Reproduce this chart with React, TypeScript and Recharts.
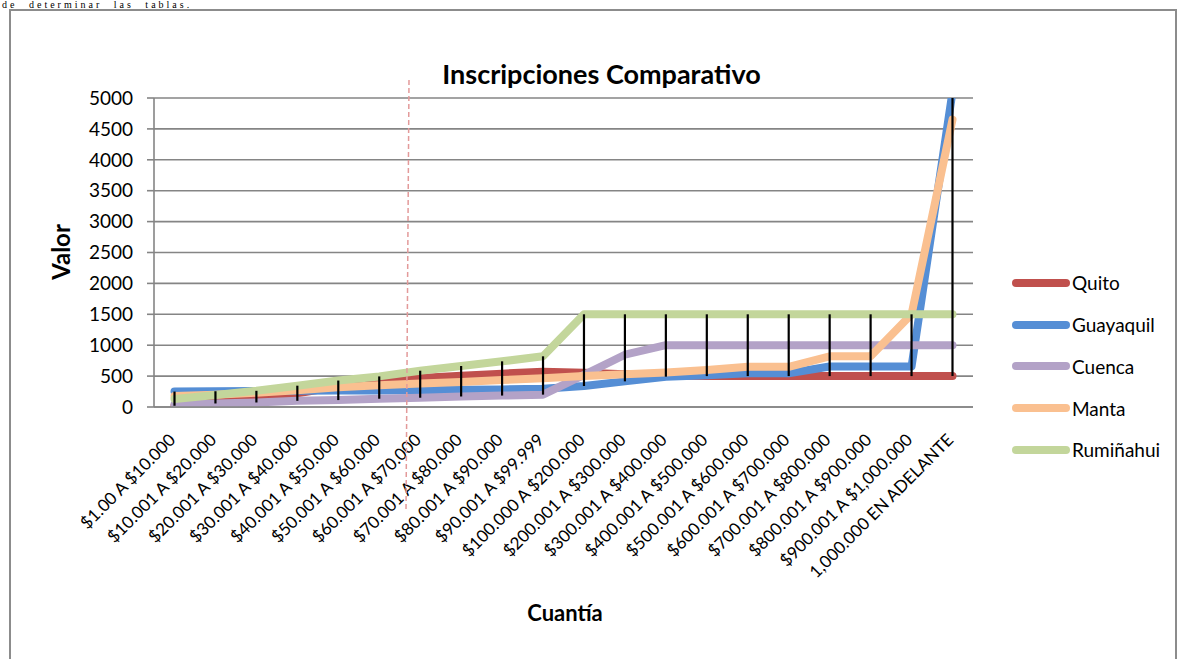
import React from "react";
import {
  ComposedChart,
  Line,
  ErrorBar,
  XAxis,
  YAxis,
  CartesianGrid,
} from "recharts";

const categories = [
  "$1.00 A $10.000",
  "$10.001 A $20.000",
  "$20.001 A $30.000",
  "$30.001 A $40.000",
  "$40.001 A $50.000",
  "$50.001 A $60.000",
  "$60.001 A $70.000",
  "$70.001 A $80.000",
  "$80.001 A $90.000",
  "$90.001 A $99.999",
  "$100.000 A $200.000",
  "$200.001 A $300.000",
  "$300.001 A $400.000",
  "$400.001 A $500.000",
  "$500.001 A $600.000",
  "$600.001 A $700.000",
  "$700.001 A $800.000",
  "$800.001 A $900.000",
  "$900.001 A $1,000.000",
  "1,000.000 EN ADELANTE",
];

const quito = [20, 90, 145, 220, 330, 425, 470, 505, 540, 570, 555, 530, 510, 500, 500, 500, 500, 500, 500, 500];
const guayaquil = [250, 255, 258, 262, 265, 268, 272, 278, 285, 295, 340, 415, 490, 515, 545, 545, 655, 655, 655, 5100];
const cuenca = [40, 57, 73, 100, 112, 134, 150, 170, 185, 200, 520, 846, 1000, 1000, 1000, 1000, 1000, 1000, 1000, 1000];
const manta = [180, 200, 230, 270, 320, 350, 380, 405, 435, 465, 500, 530, 560, 600, 650, 650, 820, 820, 1500, 4650];
const ruminahui = [130, 195, 262, 345, 428, 495, 587, 663, 739, 820, 1500, 1500, 1500, 1500, 1500, 1500, 1500, 1500, 1500, 1500];

const yTicks = [0, 500, 1000, 1500, 2000, 2500, 3000, 3500, 4000, 4500, 5000];
const Y_MAX = 5000;

const seriesDefs = [
  { key: "Quito", values: quito, color: "#C0504D" },
  { key: "Guayaquil", values: guayaquil, color: "#558ED5" },
  { key: "Cuenca", values: cuenca, color: "#B3A2C7" },
  { key: "Manta", values: manta, color: "#FAC090" },
  { key: "Rumiñahui", values: ruminahui, color: "#C3D69B" },
];

const data = categories.map((cat, i) => {
  const row: any = { cat };
  const vals: number[] = [];
  seriesDefs.forEach((s) => {
    row[s.key] = s.values[i];
    vals.push(s.values[i]);
  });
  const lo = Math.min(...vals);
  const hi = Math.min(Math.max(...vals), Y_MAX);
  row.hlMid = (lo + hi) / 2;
  row.hlErr = [(hi - lo) / 2, (hi - lo) / 2];
  return row;
});

const FONT = "Lato, 'Open Sans', sans-serif";

const XTick = (props: any) => {
  const { x, y, payload } = props;
  return (
    <g transform={`translate(${x + 2},${y + 26})`}>
      <text
        x={0}
        y={0}
        textAnchor="end"
        transform="rotate(-45)"
        fontFamily={FONT}
        fontSize={17}
        fill="#000"
      >
        {payload.value}
      </text>
    </g>
  );
};

export default function App() {
  return (
    <div
      style={{
        position: "absolute",
        left: 0,
        top: 0,
        width: 1188,
        height: 659,
        overflow: "hidden",
        background: "#fff",
      }}
    >
      <div
        style={{
          position: "absolute",
          left: 2,
          top: 0,
          fontFamily: "'Liberation Serif', serif",
          fontSize: 10,
          lineHeight: "10px",
          whiteSpace: "nowrap",
          wordSpacing: 6,
          letterSpacing: 3,
        }}
      >
        de determinar las tablas.
      </div>
      <div
        style={{
          position: "absolute",
          left: 9,
          top: 9,
          width: 1168,
          height: 700,
          border: "2px solid #8c8c8c",
          boxSizing: "border-box",
        }}
      />
      <div
        style={{
          position: "absolute",
          left: 0,
          top: 57,
          width: 1203,
          textAlign: "center",
          fontFamily: FONT,
          fontWeight: 700,
          fontSize: 27,
        }}
      >
        Inscripciones Comparativo
      </div>
      <div
        style={{
          position: "absolute",
          left: 60,
          top: 252,
          transform: "translate(-50%, -50%) rotate(-90deg)",
          fontFamily: FONT,
          fontWeight: 700,
          fontSize: 24,
          whiteSpace: "nowrap",
        }}
      >
        Valor
      </div>
      <div
        style={{
          position: "absolute",
          left: 565,
          top: 612,
          transform: "translate(-50%, -50%)",
          fontFamily: FONT,
          fontWeight: 700,
          fontSize: 22,
          whiteSpace: "nowrap",
        }}
      >
        Cuantía
      </div>
      <div
        style={{
          position: "absolute",
          left: 1012,
          top: 262,
          width: 170,
          fontFamily: FONT,
        }}
      >
        {seriesDefs.map((s) => (
          <div
            key={s.key}
            style={{ display: "flex", alignItems: "center", height: 41.75 }}
          >
            <svg width={58} height={10} style={{ display: "block" }}>
              <line
                x1={4}
                y1={5}
                x2={54}
                y2={5}
                stroke={s.color}
                strokeWidth={8}
                strokeLinecap="round"
              />
            </svg>
            <span style={{ marginLeft: 2, fontSize: 19, color: "#000" }}>
              {s.key}
            </span>
          </div>
        ))}
      </div>
      <div style={{ position: "absolute", left: 0, top: 0 }}>
        <ComposedChart
          width={1188}
          height={659}
          data={data}
          margin={{ top: 98, right: 215, left: 94, bottom: 102 }}
        >
          <CartesianGrid vertical={false} stroke="#858585" strokeWidth={1.6} />
          <XAxis
            dataKey="cat"
            interval={0}
            height={150}
            padding={{ left: 20.5, right: 20.5 }}
            tick={<XTick />}
            tickLine={false}
            axisLine={{ stroke: "#858585", strokeWidth: 1.6 }}
          />
          <YAxis
            domain={[0, Y_MAX]}
            ticks={yTicks}
            allowDataOverflow
            width={60}
            tickSize={7}
            tickMargin={14}
            tickLine={{ stroke: "#858585", strokeWidth: 1.6 }}
            axisLine={{ stroke: "#858585", strokeWidth: 1.6 }}
            tick={{ fontFamily: FONT, fontSize: 19, fill: "#000" }}
          />
          {seriesDefs.map((s) => (
            <Line
              key={s.key}
              type="linear"
              dataKey={s.key}
              stroke={s.color}
              strokeWidth={8}
              strokeLinecap="round"
              strokeLinejoin="round"
              dot={false}
              activeDot={false}
              isAnimationActive={false}
            />
          ))}
          <Line
            dataKey="hlMid"
            stroke="none"
            strokeWidth={0}
            dot={false}
            activeDot={false}
            legendType="none"
            isAnimationActive={false}
          >
            <ErrorBar
              dataKey="hlErr"
              width={0}
              stroke="#000"
              strokeWidth={2.2}
              direction="y"
              isAnimationActive={false}
            />
          </Line>
        </ComposedChart>
      </div>
      <svg
        width={1188}
        height={659}
        style={{ position: "absolute", left: 0, top: 0, pointerEvents: "none" }}
      >
        <line
          x1={409}
          y1={80}
          x2={406}
          y2={512}
          stroke="#E39A9A"
          strokeWidth={1.5}
          strokeDasharray="5 3"
        />
      </svg>
    </div>
  );
}
